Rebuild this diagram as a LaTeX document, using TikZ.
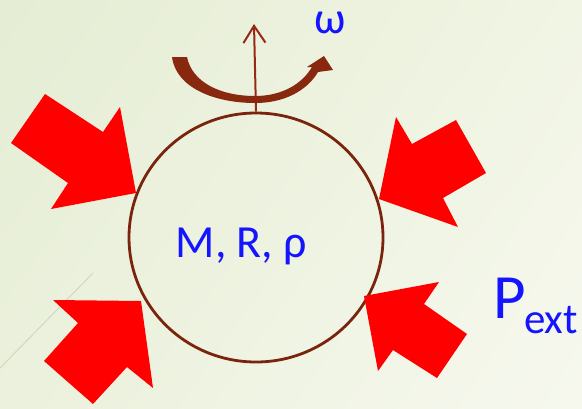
\documentclass[tikz,border=0pt]{standalone}
\usepackage{fontspec}
\setmainfont{Carlito}
\usetikzlibrary{arrows.meta,shapes.geometric,shadings}
\definecolor{bgA}{RGB}{229,237,212}
\definecolor{bgB}{RGB}{241,245,228}
\definecolor{bgC}{RGB}{235,241,220}
\definecolor{bgD}{RGB}{246,248,238}
\definecolor{circbrown}{RGB}{122,36,14}
\definecolor{axisbrown}{RGB}{150,42,20}
\definecolor{rotbrown}{RGB}{135,40,15}
\definecolor{pured}{RGB}{255,0,0}
\definecolor{txtblue}{RGB}{20,20,255}
\definecolor{faintgrey}{RGB}{212,214,198}
\tikzset{
  pressarrow/.style={fill=pured},
  ballstyle/.style={draw=circbrown, line width=2.8pt, ellipse, minimum width=254pt, minimum height=249pt, inner sep=0pt},
  axisline/.style={draw=axisbrown, line width=2pt, -{Straight Barb[length=17pt,width=22pt]}},
  bluetxt/.style={text=txtblue, inner sep=0pt, outer sep=0pt},
}
\begin{document}
\begin{tikzpicture}[x=1pt,y=-1pt]
\useasboundingbox (0,0) rectangle (582,408);
\shade[upper left=bgA, upper right=bgB, lower left=bgC, lower right=bgD] (0,0) rectangle (582,408);
\draw[faintgrey, line width=1pt] (0,368) -- (93,273);
% ball
\node[ballstyle] (ball) at (256,237.5) {};
\node[bluetxt, anchor=base, font=\fontsize{46}{50}\selectfont] (params) at (241.5,257) {M, R, ρ};
% rotation axis
\coordinate (axtop) at (254,24);
\draw[axisline] (ball.north) -- (axtop);
% rotation arrow
\fill[rotbrown] (172,57) .. controls (176,88) and (215,103) .. (255,103)
  .. controls (290,103) and (310,86) .. (318,72)
  -- (333,70) -- (324,56) -- (307,67) -- (312,67)
  .. controls (302,84) and (282,96) .. (255,96)
  .. controls (220,96) and (192,82) .. (187,57) -- cycle;
\node[bluetxt, anchor=base, font=\fontsize{45}{50}\selectfont] (omega) at (330,33) {ω};
% pressure arrows
\fill[pressarrow] (45,94) -- (103,132) -- (120,107) -- (136,193) -- (51,209) -- (68,183) -- (11,143) -- cycle;
\fill[pressarrow] (53,300) -- (141,301) -- (153,388) -- (127,367) -- (93,404) -- (44,361) -- (78,323) -- cycle;
\fill[pressarrow] (396,117) -- (412,144) -- (456,120) -- (486,173) -- (443,198) -- (458,227) -- (379,199) -- cycle;
\fill[pressarrow] (364,296) -- (439,282) -- (424,304) -- (467,334) -- (437,378) -- (393,350) -- (378,371) -- cycle;
% P_ext
\node[bluetxt, anchor=base west, font=\fontsize{63}{70}\selectfont] (pP) at (493,318) {P};
\node[bluetxt, anchor=base west, font=\fontsize{43}{48}\selectfont] (pext) at (524,333) {ext};
\end{tikzpicture}
\end{document}
